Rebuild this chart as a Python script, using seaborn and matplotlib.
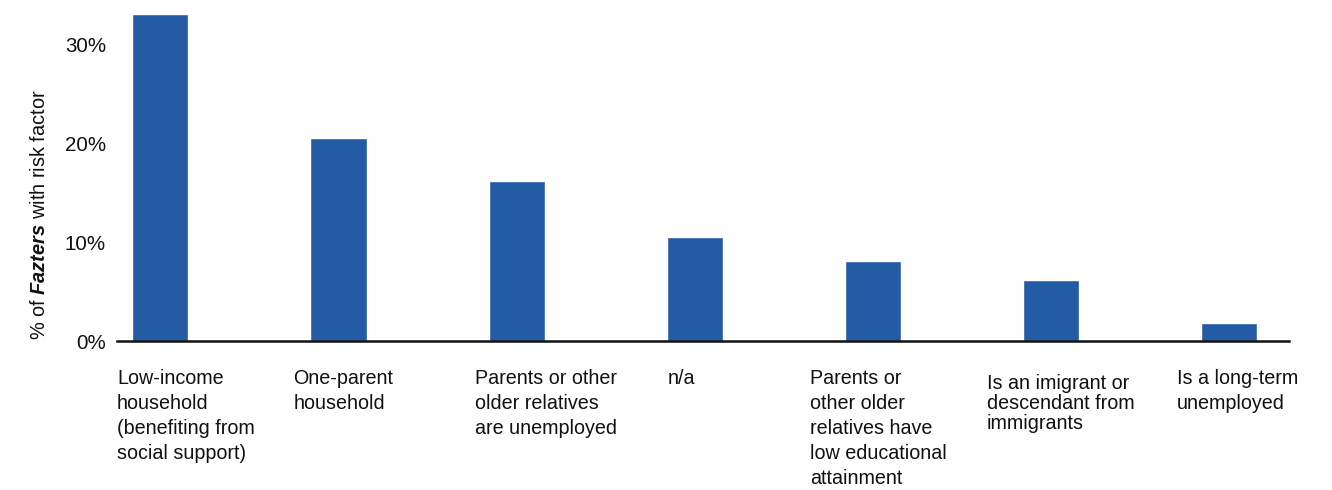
import matplotlib
matplotlib.use("Agg")
import matplotlib.pyplot as plt
import matplotlib.transforms as mtransforms
import seaborn as sns

# Risk factors and share of Fazters having each one (%)
categories = [
    "Low-income\nhousehold\n(benefiting from\nsocial support)",
    "One-parent\nhousehold",
    "Parents or other\nolder relatives\nare unemployed",
    "n/a",
    "Parents or\nother older\nrelatives have\nlow educational\nattainment",
    "Is an imigrant or\ndescendant from\nimmigrants",
    "Is a long-term\nunemployed",
]
shares = [33.1, 20.6, 16.2, 10.5, 8.1, 6.2, 1.8]
y_ticks = [0, 10, 20, 30]
y_tick_labels = ["0%", "10%", "20%", "30%"]

# Label placement (left edge relative to bar centre, in category units)
label_dx = [-0.244, -0.253, -0.236, -0.152, -0.354, -0.360, -0.292]
label_dy = [0, 0, 0, 0, 0, -0.015, 0]
label_spacing = [1.40, 1.40, 1.40, 1.40, 1.40, 1.08, 1.40]

sns.set_theme(style="white")
plt.rcParams["font.family"] = ["Liberation Sans", "DejaVu Sans"]
plt.rcParams["mathtext.fontset"] = "custom"
plt.rcParams["mathtext.bf"] = "Liberation Sans:bold:italic"
plt.rcParams["mathtext.rm"] = "Liberation Sans"

BAR = "#245BA5"
INK = "#111111"

fig = plt.figure(figsize=(13.32, 4.90), dpi=100)
ax = fig.add_axes([0.0878, 0.304, 0.880, 0.685])

positions = list(range(len(categories)))
sns.barplot(x=positions, y=shares, color=BAR, width=0.315, saturation=1,
            ax=ax, native_scale=True)

ax.set_xlim(-0.244, 6.337)
ax.set_ylim(0, 34)
ax.set_yticks(y_ticks)
ax.set_yticklabels(y_tick_labels, fontsize=14.8, color=INK)
ax.set_xticks([])
ax.tick_params(axis="y", length=0, pad=8)

for side in ["top", "right", "left"]:
    ax.spines[side].set_visible(False)
ax.spines["bottom"].set_color(INK)
ax.spines["bottom"].set_linewidth(1.8)

trans = mtransforms.blended_transform_factory(ax.transData, ax.transAxes)
for i, text in enumerate(categories):
    ax.text(i + label_dx[i], -0.082 + label_dy[i], text, transform=trans,
            ha="left", va="top", fontsize=14.2, color=INK,
            linespacing=label_spacing[i])

fig.text(0.030, 0.561, r"% of $\mathbf{Fazters}$ with risk factor",
         rotation=90, ha="center", va="center", fontsize=14.4, color=INK)

fig.savefig("out.png", dpi=100)
